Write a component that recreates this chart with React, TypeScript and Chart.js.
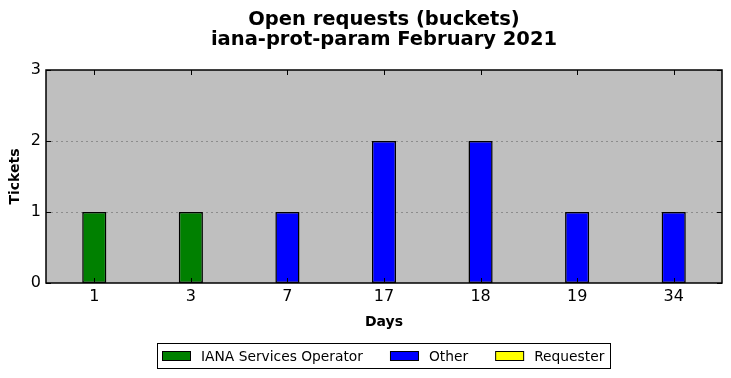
import React, { useEffect, useRef } from "react";
import { Chart, registerables } from "chart.js";

Chart.register(...registerables);

const categories = ["1", "3", "7", "17", "18", "19", "34"];
const ianaValues = [1, 1, 0, 0, 0, 0, 0];
const otherValues = [0, 0, 1, 2, 2, 1, 1];
const requesterValues = [0, 0, 0, 0, 0, 0, 0];
const titleLines = ["Open requests (buckets)", "iana-prot-param February 2021"];

const FONT = "'DejaVu Sans', sans-serif";

// zero-height bars are not drawn (null keeps them out of the stack rendering)
const nz = (arr: number[]) => arr.map((v) => (v === 0 ? null : v));

const framePlugin = {
  id: "frame",
  beforeDraw(chart: any) {
    const { ctx, chartArea: a } = chart;
    ctx.save();
    ctx.fillStyle = "#bfbfbf";
    ctx.fillRect(a.left, a.top, a.right - a.left, a.bottom - a.top);
    ctx.restore();
  },
  beforeDatasetsDraw(chart: any) {
    const { ctx, chartArea: a } = chart;
    const y = chart.scales.y;
    ctx.save();
    ctx.strokeStyle = "#8c8c8c";
    ctx.lineWidth = 1;
    ctx.setLineDash([2, 3]);
    y.ticks.forEach((t: any, i: number) => {
      if (t.value === y.min || t.value === y.max) return;
      const py = Math.round(y.getPixelForTick(i)) + 0.5;
      ctx.beginPath();
      ctx.moveTo(a.left, py);
      ctx.lineTo(a.right, py);
      ctx.stroke();
    });
    ctx.restore();
  },
  afterDatasetsDraw(chart: any) {
    const { ctx, chartArea: a } = chart;
    const x = chart.scales.x;
    const y = chart.scales.y;
    const L = 5;
    ctx.save();
    ctx.strokeStyle = "#000";
    ctx.lineWidth = 1;
    ctx.setLineDash([]);
    x.ticks.forEach((_t: any, i: number) => {
      const px = Math.round(x.getPixelForTick(i)) + 0.5;
      ctx.beginPath();
      ctx.moveTo(px, a.top);
      ctx.lineTo(px, a.top + L);
      ctx.moveTo(px, a.bottom);
      ctx.lineTo(px, a.bottom - L);
      ctx.stroke();
    });
    y.ticks.forEach((_t: any, i: number) => {
      const py = Math.round(y.getPixelForTick(i)) + 0.5;
      ctx.beginPath();
      ctx.moveTo(a.left, py);
      ctx.lineTo(a.left + L, py);
      ctx.moveTo(a.right, py);
      ctx.lineTo(a.right - L, py);
      ctx.stroke();
    });
    ctx.lineWidth = 1.5;
    ctx.strokeRect(Math.round(a.left), Math.round(a.top), Math.round(a.right - a.left), Math.round(a.bottom - a.top));
    ctx.restore();
  },
  afterDraw(chart: any) {
    const { ctx, chartArea: a } = chart;
    const cx = (a.left + a.right) / 2;
    ctx.save();
    // title
    ctx.fillStyle = "#000";
    ctx.textAlign = "center";
    ctx.textBaseline = "alphabetic";
    ctx.font = `bold 19.5px ${FONT}`;
    ctx.fillText(titleLines[0], cx, a.top - 45);
    ctx.fillText(titleLines[1], cx, a.top - 25);
    // legend
    ctx.font = `13.8px ${FONT}`;
    const ds = chart.data.datasets;
    const boxW = 28;
    const gapText = 11;
    const gapItem = 27;
    const widths = ds.map((d: any) => ctx.measureText(d.label).width);
    let total = 5 + 6;
    widths.forEach((w: number, i: number) => {
      total += boxW + gapText + w + (i < widths.length - 1 ? gapItem : 0);
    });
    const left = Math.round(cx - total / 2);
    const top = Math.round(a.bottom) + 60;
    ctx.lineWidth = 1;
    ctx.strokeStyle = "#000";
    ctx.fillStyle = "#fff";
    ctx.fillRect(left, top, total, 25);
    ctx.strokeRect(left + 0.5, top + 0.5, Math.round(total), 25);
    let xx = left + 5;
    ds.forEach((d: any, i: number) => {
      ctx.fillStyle = d.backgroundColor;
      ctx.fillRect(xx + 0.5, top + 8.5, boxW, 9);
      ctx.strokeRect(xx + 0.5, top + 8.5, boxW, 9);
      xx += boxW + gapText;
      ctx.fillStyle = "#000";
      ctx.textAlign = "left";
      ctx.fillText(d.label, xx, top + 18);
      xx += widths[i] + gapItem;
    });
    ctx.restore();
  },
};

export default function App() {
  const ref = useRef<HTMLCanvasElement>(null);
  useEffect(() => {
    document.body.style.margin = "0";
    const chart = new Chart(ref.current!, {
      type: "bar",
      data: {
        labels: categories,
        datasets: [
          { label: "IANA Services Operator", data: nz(ianaValues), backgroundColor: "#008000", borderColor: "#000", borderWidth: 1.5, borderSkipped: false },
          { label: "Other", data: nz(otherValues), backgroundColor: "#0000ff", borderColor: "#000", borderWidth: 1.5, borderSkipped: false },
          { label: "Requester", data: nz(requesterValues), backgroundColor: "#ffff00", borderColor: "#000", borderWidth: 1.5, borderSkipped: false },
        ],
      },
      options: {
        animation: false,
        responsive: false,
        devicePixelRatio: 1,
        layout: { padding: { left: 0, right: 9, top: 0, bottom: 47 } },
        datasets: { bar: { barPercentage: 0.25, categoryPercentage: 1 } },
        plugins: {
          title: {
            display: true,
            text: titleLines,
            color: "rgba(0,0,0,0)",
            font: { family: FONT, size: 19.5, weight: "bold", lineHeight: 22 / 19.5 },
            padding: { top: 8, bottom: 18 },
          },
          legend: { display: false },
          tooltip: { enabled: false },
        },
        scales: {
          x: {
            stacked: true,
            grid: { display: false, drawTicks: false, tickLength: 0 },
            border: { display: false },
            ticks: { color: "#000", font: { family: FONT, size: 16 }, padding: 4 },
            title: { display: true, text: "Days", color: "#000", font: { family: FONT, size: 14, weight: "bold" }, padding: { top: 4, bottom: 0 } },
          },
          y: {
            stacked: true,
            min: 0,
            max: 3,
            grid: { display: false, drawTicks: false, tickLength: 0 },
            border: { display: false },
            ticks: { stepSize: 1, color: "#000", font: { family: FONT, size: 16 }, padding: 5 },
            title: { display: true, text: "Tickets", color: "#000", font: { family: FONT, size: 14, weight: "bold" }, padding: { top: 7, bottom: 0 } },
            afterFit(scale: any) {
              scale.width = 46;
            },
          },
        },
      },
      plugins: [framePlugin],
    } as any);
    return () => chart.destroy();
  }, []);
  return <canvas ref={ref} width={731} height={378} style={{ display: "block" }} />;
}
